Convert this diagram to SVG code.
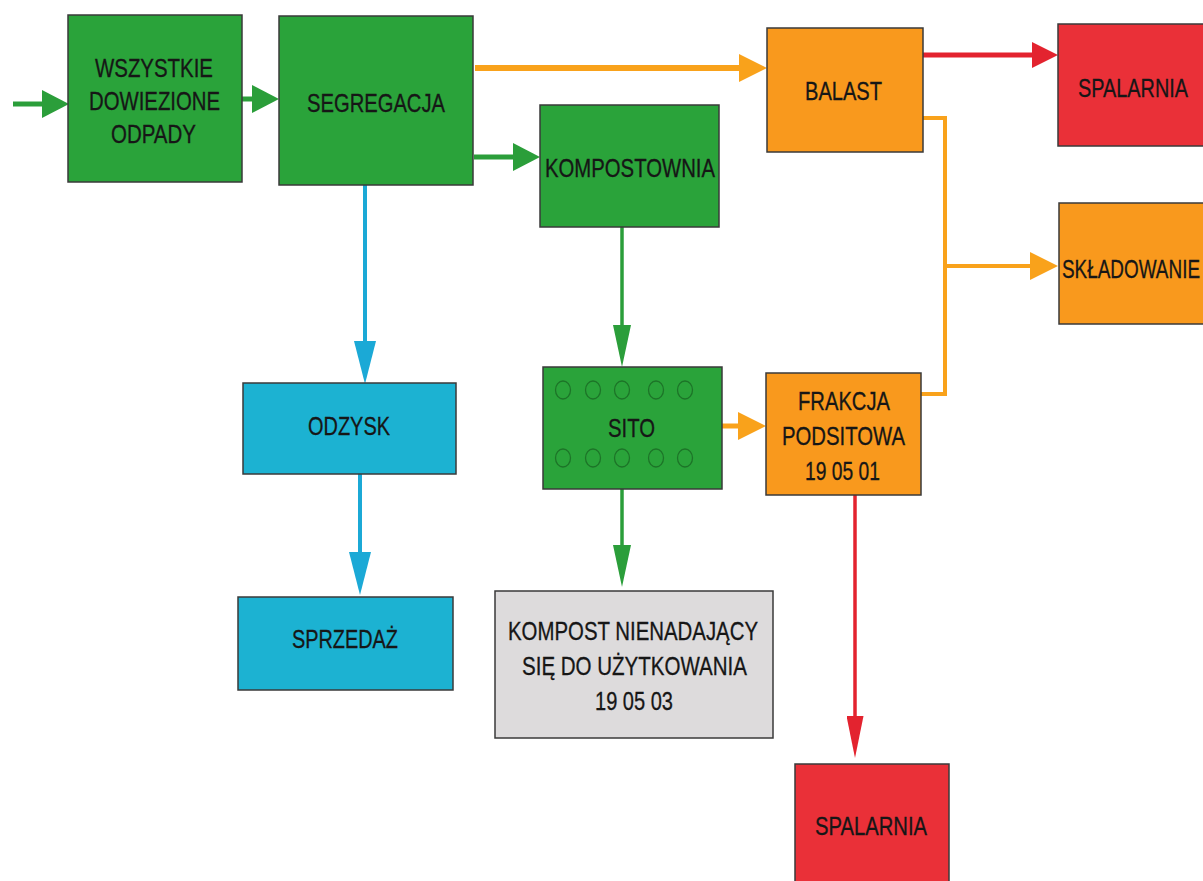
<svg xmlns="http://www.w3.org/2000/svg" width="1203" height="881" viewBox="0 0 1203 881">
<style>
.box{stroke:#3a3a3a;stroke-width:1.5}
.g{fill:#2aa33a}
.o{fill:#f9991d}
.r{fill:#ea3038}
.c{fill:#1cb2d2}
.gr{fill:#dddbdc}
.t{font-family:"Liberation Sans",Arial,sans-serif;font-size:25px;fill:#161616;text-anchor:start;stroke:#161616;stroke-width:0.3}
.hole{fill:none;stroke:#1d7428;stroke-width:1.3}
.ln{fill:none;stroke-linejoin:miter}
.lg{stroke:#2b9e3a}
.lo{stroke:#f9a21b}
.lr{stroke:#e3232f}
.lc{stroke:#1ba9d6}
</style>
<defs>
<marker id="hg" markerUnits="userSpaceOnUse" markerWidth="27" markerHeight="28" viewBox="0 0 27 28" refX="0" refY="14" orient="auto"><path d="M0,0 L27,14 L0,28 z" fill="#2b9e3a"/></marker>
<marker id="ho" markerUnits="userSpaceOnUse" markerWidth="28" markerHeight="28" viewBox="0 0 28 28" refX="0" refY="14" orient="auto"><path d="M0,0 L28,14 L0,28 z" fill="#f9a21b"/></marker>
<marker id="hr" markerUnits="userSpaceOnUse" markerWidth="26" markerHeight="26" viewBox="0 0 26 26" refX="0" refY="13" orient="auto"><path d="M0,0 L26,13 L0,26 z" fill="#e3232f"/></marker>
<marker id="vg" markerUnits="userSpaceOnUse" markerWidth="42" markerHeight="18" viewBox="0 0 42 18" refX="0" refY="9" orient="auto"><path d="M0,0 L42,9 L0,18 z" fill="#2b9e3a"/></marker>
<marker id="vc" markerUnits="userSpaceOnUse" markerWidth="43" markerHeight="22" viewBox="0 0 43 22" refX="0" refY="11" orient="auto"><path d="M0,0 L43,11 L0,22 z" fill="#1ba9d6"/></marker>
<marker id="vr" markerUnits="userSpaceOnUse" markerWidth="42" markerHeight="17" viewBox="0 0 42 17" refX="0" refY="8.5" orient="auto"><path d="M0,0 L42,8.5 L0,17 z" fill="#e3232f"/></marker>
</defs>
<rect width="1203" height="881" fill="#ffffff"/>

<g id="connectors">
<line class="ln lg" x1="13" y1="104" x2="42" y2="104" stroke-width="5" marker-end="url(#hg)"/>
<line class="ln lg" x1="242" y1="99" x2="252" y2="99" stroke-width="5" marker-end="url(#hg)"/>
<line class="ln lo" x1="475" y1="68" x2="739" y2="68" stroke-width="6" marker-end="url(#ho)"/>
<line class="ln lg" x1="474" y1="157" x2="513" y2="157" stroke-width="5" marker-end="url(#hg)"/>
<line class="ln lc" x1="365" y1="185" x2="365" y2="341" stroke-width="4" marker-end="url(#vc)"/>
<line class="ln lc" x1="360" y1="474" x2="360" y2="552" stroke-width="4" marker-end="url(#vc)"/>
<line class="ln lg" x1="622" y1="227" x2="622" y2="325" stroke-width="3.5" marker-end="url(#vg)"/>
<line class="ln lg" x1="622" y1="489" x2="622" y2="545" stroke-width="3.5" marker-end="url(#vg)"/>
<line class="ln lo" x1="722" y1="426" x2="738" y2="426" stroke-width="5" marker-end="url(#ho)"/>
<line class="ln lr" x1="923" y1="55" x2="1032" y2="55" stroke-width="5" marker-end="url(#hr)"/>
<polyline class="ln lo" points="923,118 945,118 945,394 921,394" stroke-width="4"/>
<line class="ln lo" x1="945" y1="266" x2="1030" y2="266" stroke-width="4" marker-end="url(#ho)"/>
<line class="ln lr" x1="855" y1="495" x2="855" y2="716" stroke-width="3.5" marker-end="url(#vr)"/>
</g>

<g id="n-wszystkie">
<rect class="box g" x="68" y="15" width="174" height="167"/>
<text class="t" x="95" y="77" textLength="118" lengthAdjust="spacingAndGlyphs">WSZYSTKIE</text>
<text class="t" x="89" y="110" textLength="131" lengthAdjust="spacingAndGlyphs">DOWIEZIONE</text>
<text class="t" x="111" y="143" textLength="85" lengthAdjust="spacingAndGlyphs">ODPADY</text>
</g>

<g id="n-segregacja">
<rect class="box g" x="279" y="16" width="194" height="169"/>
<text class="t" x="307" y="112" font-size="29" textLength="138" lengthAdjust="spacingAndGlyphs">SEGREGACJA</text>
</g>

<g id="n-kompostownia">
<rect class="box g" x="540" y="105" width="179" height="122"/>
<text class="t" x="545" y="177" font-size="28" textLength="170" lengthAdjust="spacingAndGlyphs">KOMPOSTOWNIA</text>
</g>

<g id="n-balast">
<rect class="box o" x="767" y="28" width="156" height="124"/>
<text class="t" x="805" y="100" font-size="28" textLength="77" lengthAdjust="spacingAndGlyphs">BALAST</text>
</g>

<g id="n-spalarnia1">
<rect class="box r" x="1058" y="24" width="150" height="122"/>
<text class="t" x="1078" y="97" font-size="27" textLength="110" lengthAdjust="spacingAndGlyphs">SPALARNIA</text>
</g>

<g id="n-skladowanie">
<rect class="box o" x="1059" y="203" width="150" height="121"/>
<text class="t" x="1062" y="278" font-size="24" textLength="138" lengthAdjust="spacingAndGlyphs">SKŁADOWANIE</text>
</g>

<g id="n-odzysk">
<rect class="box c" x="243" y="383" width="213" height="91"/>
<text class="t" x="308" y="435" textLength="82" lengthAdjust="spacingAndGlyphs">ODZYSK</text>
</g>

<g id="n-sito">
<rect class="box g" x="543" y="367" width="179" height="122"/>
<ellipse class="hole" cx="563" cy="390" rx="7.5" ry="9"/>
<ellipse class="hole" cx="593" cy="390" rx="7.5" ry="9"/>
<ellipse class="hole" cx="622" cy="390" rx="7.5" ry="9"/>
<ellipse class="hole" cx="656" cy="390" rx="7.5" ry="9"/>
<ellipse class="hole" cx="685" cy="390" rx="7.5" ry="9"/>
<ellipse class="hole" cx="563" cy="458" rx="7.5" ry="9"/>
<ellipse class="hole" cx="593" cy="458" rx="7.5" ry="9"/>
<ellipse class="hole" cx="622" cy="458" rx="7.5" ry="9"/>
<ellipse class="hole" cx="656" cy="458" rx="7.5" ry="9"/>
<ellipse class="hole" cx="685" cy="458" rx="7.5" ry="9"/>
<text class="t" x="608" y="437" font-size="26" textLength="47" lengthAdjust="spacingAndGlyphs">SITO</text>
</g>

<g id="n-frakcja">
<rect class="box o" x="766" y="373" width="155" height="122"/>
<text class="t" x="798" y="410" textLength="92" lengthAdjust="spacingAndGlyphs">FRAKCJA</text>
<text class="t" x="782" y="445" textLength="123" lengthAdjust="spacingAndGlyphs">PODSITOWA</text>
<text class="t" x="805" y="480" textLength="75" lengthAdjust="spacingAndGlyphs">19 05 01</text>
</g>

<g id="n-sprzedaz">
<rect class="box c" x="238" y="597" width="215" height="93"/>
<text class="t" x="292" y="648" font-size="27" textLength="106" lengthAdjust="spacingAndGlyphs">SPRZEDAŻ</text>
</g>

<g id="n-kompost">
<rect class="box gr" x="495" y="591" width="278" height="147"/>
<text class="t" x="508" y="640" font-size="27" textLength="250" lengthAdjust="spacingAndGlyphs">KOMPOST NIENADAJĄCY</text>
<text class="t" x="522" y="675" font-size="27" textLength="225" lengthAdjust="spacingAndGlyphs">SIĘ DO UŻYTKOWANIA</text>
<text class="t" x="595" y="710" font-size="27" textLength="78" lengthAdjust="spacingAndGlyphs">19 05 03</text>
</g>

<g id="n-spalarnia2">
<rect class="box r" x="795" y="764" width="154" height="120"/>
<text class="t" x="815" y="835" font-size="29" textLength="112" lengthAdjust="spacingAndGlyphs">SPALARNIA</text>
</g>
</svg>
